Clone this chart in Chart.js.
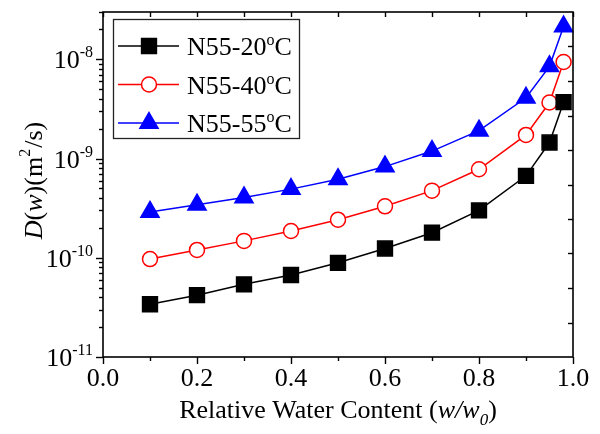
<!DOCTYPE html>
<html>
<head>
<meta charset="utf-8">
<script src="https://cdn.jsdelivr.net/npm/chart.js@4/dist/chart.umd.min.js"></script>
<style>
  html, body { margin: 0; padding: 0; background: #ffffff; }
  #wrap { width: 600px; height: 434px; position: relative; }
</style>
</head>
<body>
<div id="wrap"><canvas id="chart"></canvas></div>
<script>
// Relative water content w/w0 at which D(w) was evaluated
const waterContent = [0.1, 0.2, 0.3, 0.4, 0.5, 0.6, 0.7, 0.8, 0.9, 0.95, 0.98];

// Moisture diffusivity D(w) in m^2/s for each temperature
const diffusivity20 = [3.4e-11, 4.2e-11, 5.4e-11, 6.7e-11, 8.9e-11, 1.24e-10, 1.79e-10, 3.0e-10, 6.7e-10, 1.45e-9, 3.7e-9];
const diffusivity40 = [9.7e-11, 1.2e-10, 1.48e-10, 1.86e-10, 2.42e-10, 3.3e-10, 4.75e-10, 7.8e-10, 1.73e-9, 3.67e-9, 9.4e-9];
const diffusivity55 = [2.9e-10, 3.43e-10, 4.06e-10, 4.92e-10, 6.2e-10, 8.3e-10, 1.19e-9, 1.91e-9, 4.1e-9, 8.5e-9, 2.14e-8];

// Series labels (sample name and temperature in degrees C)
const seriesSample = ['N55-20', 'N55-40', 'N55-55'];

// Axis ranges and labelled ticks
const xMin = 0, xMax = 1.0, xStep = 0.2, xMinorStep = 0.1;
const yMin = 1e-11, yMax = 3e-8;
const yDecadeExponents = [-11, -10, -9, -8];
const rightAxisDivisions = 10;

const SERIF = '"Liberation Serif", "Times New Roman", serif';

const styles = [
  { color: '#000000', fill: '#000000', pointStyle: 'rect', radius: 10.5 },
  { color: '#ff0000', fill: '#ffffff', pointStyle: 'circle', radius: 7.5 },
  { color: '#0000ff', fill: '#0000ff', pointStyle: 'triangle', radius: 10.5 }
];
const seriesValues = [diffusivity20, diffusivity40, diffusivity55];

const datasets = seriesValues.map((vals, i) => ({
  label: seriesSample[i] + '°C',
  data: waterContent.map((w, k) => ({ x: w, y: vals[k] })),
  borderColor: styles[i].color,
  backgroundColor: styles[i].fill,
  pointBackgroundColor: styles[i].fill,
  pointBorderColor: styles[i].color,
  pointStyle: styles[i].pointStyle,
  pointRadius: styles[i].radius,
  pointHoverRadius: styles[i].radius,
  pointBorderWidth: 1.5,
  borderWidth: 1.5,
  tension: 0,
  clip: false
}));

function line(ctx, x1, y1, x2, y2) {
  ctx.beginPath();
  ctx.moveTo(x1, y1);
  ctx.lineTo(x2, y2);
  ctx.stroke();
}

// Draws a run of text pieces: {t, size, italic, dy}
function drawRich(ctx, pieces, x, y, align) {
  let total = 0;
  const widths = pieces.map(p => {
    ctx.font = (p.italic ? 'italic ' : '') + p.size + 'px ' + SERIF;
    const w = ctx.measureText(p.t).width + (p.gap || 0);
    total += w;
    return w;
  });
  let cx = align === 'center' ? x - total / 2 : align === 'right' ? x - total : x;
  pieces.forEach((p, i) => {
    ctx.font = (p.italic ? 'italic ' : '') + p.size + 'px ' + SERIF;
    ctx.fillText(p.t, cx, y + (p.dy || 0));
    cx += widths[i];
  });
}

// Axes frame, inward/outward tick marks, log-decade labels, titles and legend box
const decorations = {
  id: 'decorations',
  afterDraw(chart) {
    const { ctx, chartArea: a, scales: { x, y } } = chart;
    ctx.save();
    ctx.strokeStyle = '#000';
    ctx.fillStyle = '#000';

    // frame
    ctx.lineWidth = 1.6;
    ctx.strokeRect(a.left, a.top, a.right - a.left, a.bottom - a.top);

    // bottom (outward) and top (inward) ticks
    ctx.lineWidth = 1.4;
    const nX = Math.round((xMax - xMin) / xMinorStep);
    for (let i = 0; i <= nX; i++) {
      const v = xMin + i * xMinorStep;
      const px = Math.round(x.getPixelForValue(v)) + 0.5;
      const major = i % Math.round(xStep / xMinorStep) === 0;
      line(ctx, px, a.bottom, px, a.bottom + (major ? 7 : 4));
      line(ctx, px, a.top, px, a.top + 5);
    }

    // left log ticks (outward)
    for (const e of yDecadeExponents) {
      for (let m = 1; m <= 9; m++) {
        const v = m * Math.pow(10, e);
        if (v > yMax * 1.0001) break;
        const py = Math.round(y.getPixelForValue(v)) + 0.5;
        line(ctx, a.left - (m === 1 ? 7 : 4), py, a.left, py);
      }
    }

    // right ticks (inward, evenly divided)
    for (let i = 1; i < rightAxisDivisions; i++) {
      const py = Math.round(y.getPixelForDecimal(i / rightAxisDivisions)) + 0.5;
      line(ctx, a.right - 5, py, a.right, py);
    }

    // y decade labels: 10^e
    ctx.textBaseline = 'alphabetic';
    for (const e of yDecadeExponents) {
      const py = y.getPixelForValue(Math.pow(10, e));
      drawRich(ctx, [
        { t: '10', size: 26 },
        { t: '-' + Math.abs(e), size: 16, dy: -11 }
      ], a.left - 10, py + 9, 'right');
    }

    // x axis title
    drawRich(ctx, [
      { t: 'Relative Water Content (', size: 26 },
      { t: 'w/w', size: 26, italic: true },
      { t: '0', size: 17, italic: true, dy: 7 },
      { t: ')', size: 26 }
    ], (a.left + a.right) / 2, 418, 'center');

    // y axis title (rotated)
    ctx.save();
    ctx.translate(42, (a.top + a.bottom) / 2 - 4);
    ctx.rotate(-Math.PI / 2);
    drawRich(ctx, [
      { t: 'D', size: 26, italic: true },
      { t: '(', size: 26 },
      { t: 'w', size: 26, italic: true },
      { t: ')(m', size: 26 },
      { t: '2', size: 16, dy: -12, gap: 1 },
      { t: '/s)', size: 26 }
    ], 0, 0, 'center');
    ctx.restore();

    // legend
    const box = { left: 113, top: 19.5, width: 186, height: 119 };
    ctx.lineWidth = 1.3;
    ctx.strokeStyle = '#222';
    ctx.strokeRect(box.left + 0.5, box.top, box.width, box.height);
    const rowY = [46, 84.5, 123];
    chart.data.datasets.forEach((ds, i) => {
      const ry = rowY[i];
      ctx.strokeStyle = styles[i].color;
      ctx.lineWidth = 1.5;
      line(ctx, 118, ry, 179, ry);
      ctx.fillStyle = styles[i].fill;
      ctx.strokeStyle = styles[i].color;
      Chart.helpers.drawPoint(ctx, {
        pointStyle: styles[i].pointStyle,
        radius: styles[i].radius,
        rotation: 0,
        borderWidth: 1.5
      }, 149, ry);
      ctx.fillStyle = '#000';
      drawRich(ctx, [
        { t: seriesSample[i], size: 26 },
        { t: 'o', size: 16, dy: -10 },
        { t: 'C', size: 26 }
      ], 187, ry + 9, 'left');
    });

    ctx.restore();
  }
};

new Chart(document.getElementById('chart'), {
  type: 'line',
  data: { datasets },
  options: {
    responsive: true,
    maintainAspectRatio: false,
    animation: false,
    devicePixelRatio: 1,
    layout: { padding: { top: 9, right: 27, left: 0, bottom: 0 } },
    plugins: {
      legend: { display: false },
      tooltip: { enabled: false },
      title: { display: false }
    },
    scales: {
      x: {
        type: 'linear',
        min: xMin,
        max: xMax,
        grid: { display: false, drawTicks: false },
        border: { display: false },
        ticks: {
          stepSize: xStep,
          color: '#000',
          padding: 7,
          font: { family: SERIF, size: 26 },
          callback: v => Number(v).toFixed(1)
        },
        afterFit: s => { s.height = 77; }
      },
      y: {
        type: 'logarithmic',
        min: yMin,
        max: yMax,
        grid: { display: false, drawTicks: false },
        border: { display: false },
        ticks: { display: false },
        afterFit: s => { s.width = 103; }
      }
    }
  },
  plugins: [decorations]
});
</script>
</body>
</html>
